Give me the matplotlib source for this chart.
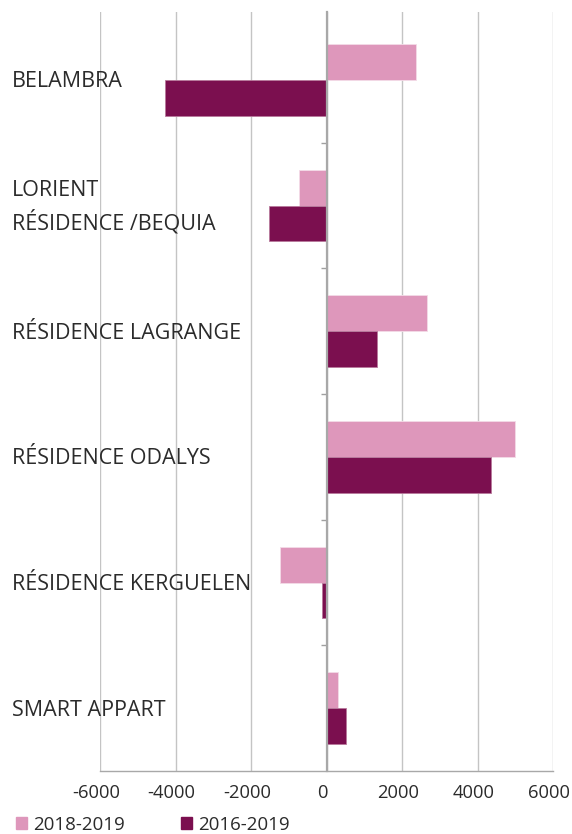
import numpy as np
import matplotlib as mpl
mpl.use('Agg')
import matplotlib.pyplot as plt
import matplotlib.transforms as mtransforms
from matplotlib.patches import Patch

plt.rcParams['font.family'] = ['Open Sans', 'DejaVu Sans']

# Data
categories = ['BELAMBRA', 'LORIENT\nRÉSIDENCE /BEQUIA', 'RÉSIDENCE LAGRANGE',
              'RÉSIDENCE ODALYS', 'RÉSIDENCE KERGUELEN', 'SMART APPART']
val_2018_2019 = [2380, -720, 2650, 5000, -1220, 300]
val_2016_2019 = [-4280, -1520, 1350, 4350, -120, 520]
series_labels = ['2018-2019', '2016-2019']
xticks = [-6000, -4000, -2000, 0, 2000, 4000, 6000]

pink = '#DE97BB'
plum = '#7B0F4F'
grey_text = '#2b2b2b'

W, H = 572, 834
fig = plt.figure(figsize=(W / 100, H / 100), dpi=100)
ax = fig.add_axes([100 / W, 1 - 771 / H, 453 / W, 759 / H])

y = np.arange(len(categories))
h = 0.286
ax.barh(y - h / 2, val_2018_2019, height=h, color=pink, edgecolor='#f3dbe7', linewidth=0.6, zorder=3)
ax.barh(y + h / 2, val_2016_2019, height=h, color=plum, edgecolor='#b87a9c', linewidth=0.6, zorder=3)

ax.set_xlim(-6000, 6000)
ax.set_ylim(len(categories) - 0.5, -0.54)
ax.set_xticks(xticks)
ax.set_xticklabels([str(t) for t in xticks], fontsize=13.2, color=grey_text)
ax.tick_params(axis='x', length=0, pad=9)
shift = mtransforms.ScaledTranslation(-4 / 100, 0, fig.dpi_scale_trans)
for lab in ax.get_xticklabels():
    lab.set_transform(lab.get_transform() + shift)
ax.grid(axis='x', color='#c4c4c4', linewidth=1, zorder=0)

ax.set_yticks(np.arange(0.5, len(categories) - 0.5, 1))
ax.set_yticklabels([])
ax.tick_params(axis='y', direction='out', length=4, width=1, color='#a0a0a0')

for s in ['top', 'right']:
    ax.spines[s].set_visible(False)
ax.spines['left'].set_position(('data', 0))
ax.spines['left'].set_color('#a8a8a8')
ax.spines['left'].set_linewidth(1.6)
ax.spines['left'].set_zorder(4)
ax.spines['bottom'].set_color('#a8a8a8')
ax.spines['bottom'].set_linewidth(1)

trans = mtransforms.blended_transform_factory(fig.transFigure, ax.transData)
for yi, cat in zip(y, categories):
    ax.text(12 / W, yi + 0.015, cat, transform=trans, ha='left', va='center',
            fontsize=15.5, color=grey_text, linespacing=1.44)

handles = [Patch(color=pink, label=series_labels[0]), Patch(color=plum, label=series_labels[1])]
fig.legend(handles=handles, loc='lower left', bbox_to_anchor=(3 / W, -13 / H), ncol=2,
           frameon=False, fontsize=13.5, handlelength=0.6, handleheight=0.6,
           handletextpad=0.3, columnspacing=3.0, borderpad=0.2, labelcolor=grey_text)

fig.savefig('out.png', dpi=100, facecolor='white')
